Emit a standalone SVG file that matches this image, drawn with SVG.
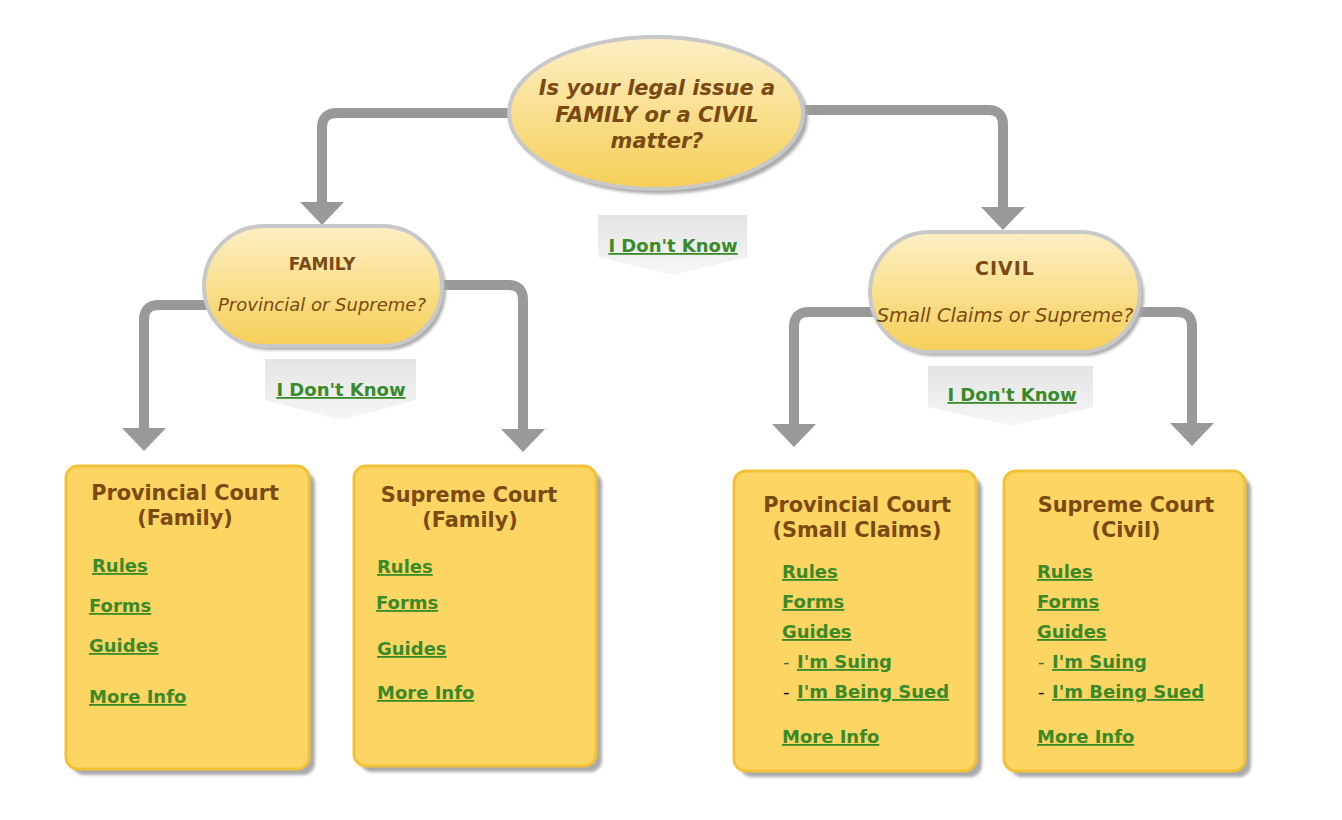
<svg xmlns="http://www.w3.org/2000/svg" width="1342" height="820" viewBox="0 0 1342 820">
<defs>
<linearGradient id="gY" x1="0" y1="0" x2="0" y2="1">
<stop offset="0" stop-color="#fcefc4"/>
<stop offset="1" stop-color="#f6cf58"/>
</linearGradient>
<linearGradient id="gG" x1="0" y1="0" x2="0" y2="1">
<stop offset="0" stop-color="#e4e4e4"/>
<stop offset="1" stop-color="#f6f6f6"/>
</linearGradient>
<filter id="blur" x="-10%" y="-10%" width="120%" height="120%"><feGaussianBlur stdDeviation="1.5"/></filter>
<marker id="arr" markerUnits="userSpaceOnUse" markerWidth="23" markerHeight="44" refX="0" refY="22" orient="auto" viewBox="0 0 23 44">
<path d="M0,0 L23,22 L0,44 Z" fill="#999999"/>
</marker>
<style>
.con{fill:none;stroke:#999999;stroke-width:10;marker-end:url(#arr)}
.shadow{fill:#aaaaaa;filter:url(#blur)}
.pill{fill:url(#gY);stroke:#c8c8c8;stroke-width:4}
.box{fill:#fcd563;stroke:#f1c136;stroke-width:3}
.idk{fill:url(#gG)}
.q{font-family:"DejaVu Sans",Verdana,sans-serif;font-weight:bold;font-style:italic;font-size:21px;fill:#7a4a12;text-anchor:middle}
.ptitle{font-family:"DejaVu Sans",Verdana,sans-serif;font-weight:bold;fill:#7a4a12;text-anchor:middle}
.psub{font-family:"DejaVu Sans",Verdana,sans-serif;font-style:italic;fill:#7a4a12;text-anchor:middle}
.title{font-family:"DejaVu Sans",Verdana,sans-serif;font-weight:bold;font-size:20.8px;fill:#7a4a12;text-anchor:middle}
.lnk{font-family:"DejaVu Sans",Verdana,sans-serif;font-weight:bold;font-size:18px;fill:#3a8a2a;text-decoration:underline}
.dash{font-family:"DejaVu Sans",Verdana,sans-serif;font-size:18px}
</style>
</defs>
<rect width="1342" height="820" fill="#ffffff"/>

<g id="connectors">
<path class="con" d="M510 113 H337 Q322 113 322 128 V202"/>
<path class="con" d="M804 110 H988 Q1003 110 1003 125 V207"/>
<path class="con" d="M208 305 H159 Q144 305 144 320 V428"/>
<path class="con" d="M440 285 H508 Q523 285 523 300 V429"/>
<path class="con" d="M874 312 H809 Q794 312 794 327 V424"/>
<path class="con" d="M1138 312 H1177 Q1192 312 1192 327 V423"/>
</g>

<g id="question">
<ellipse class="shadow" cx="660" cy="117" rx="148" ry="77"/>
<ellipse class="pill" cx="656" cy="113" rx="147" ry="76" stroke-width="5"/>
<text class="q" x="657" y="95">Is your legal issue a</text>
<text class="q" x="657" y="122">FAMILY or a CIVIL</text>
<text class="q" x="657" y="148">matter?</text>
</g>

<g id="idk-top">
<polygon class="idk" points="598,215 747,215 747,257 673,275 598,257"/>
<text class="lnk" x="673" y="252" text-anchor="middle">I Don't Know</text>
</g>

<g id="family">
<rect class="shadow" x="208" y="230" width="238" height="120" rx="60"/>
<rect class="pill" x="204" y="226" width="238" height="120" rx="60"/>
<text class="ptitle" x="322" y="270" font-size="17px">FAMILY</text>
<text class="psub" x="322" y="311" font-size="18px">Provincial or Supreme?</text>
</g>

<g id="idk-family">
<polygon class="idk" points="265,359 416,359 416,400 341,420 265,400"/>
<text class="lnk" x="341" y="396" text-anchor="middle">I Don't Know</text>
</g>

<g id="civil">
<rect class="shadow" x="874" y="236" width="270" height="120" rx="60"/>
<rect class="pill" x="870" y="232" width="270" height="120" rx="60"/>
<text class="ptitle" x="1005" y="275" font-size="19px" letter-spacing="1">CIVIL</text>
<text class="psub" x="1005" y="322" font-size="19.5px">Small Claims or Supreme?</text>
</g>

<g id="idk-civil">
<polygon class="idk" points="928,366 1093,366 1093,407 1012,426 928,407"/>
<text class="lnk" x="1012" y="401" text-anchor="middle">I Don't Know</text>
</g>

<g id="prov-family">
<rect class="shadow" x="72" y="472" width="243" height="303" rx="12"/>
<rect class="box" x="66" y="466" width="243" height="303" rx="12"/>
<text class="title" x="185" y="500">Provincial Court</text>
<text class="title" x="185" y="525">(Family)</text>
<text class="lnk" x="92" y="572">Rules</text>
<text class="lnk" x="89" y="612">Forms</text>
<text class="lnk" x="89" y="652">Guides</text>
<text class="lnk" x="89" y="703">More Info</text>
</g>

<g id="supreme-family">
<rect class="shadow" x="360" y="472" width="242" height="300" rx="12"/>
<rect class="box" x="354" y="466" width="242" height="300" rx="12"/>
<text class="title" x="469" y="502">Supreme Court</text>
<text class="title" x="470" y="527">(Family)</text>
<text class="lnk" x="377" y="573">Rules</text>
<text class="lnk" x="376" y="609">Forms</text>
<text class="lnk" x="377" y="655">Guides</text>
<text class="lnk" x="377" y="699">More Info</text>
</g>

<g id="prov-small-claims">
<rect class="shadow" x="740" y="477" width="242" height="300" rx="12"/>
<rect class="box" x="734" y="471" width="242" height="300" rx="12"/>
<text class="title" x="857" y="512">Provincial Court</text>
<text class="title" x="857" y="537">(Small Claims)</text>
<text class="lnk" x="782" y="578">Rules</text>
<text class="lnk" x="782" y="608">Forms</text>
<text class="lnk" x="782" y="638">Guides</text>
<text class="dash" x="783" y="668" fill="#4a6a30">-</text>
<text class="lnk" x="797" y="668">I'm Suing</text>
<text class="dash" x="783" y="698" fill="#000000">-</text>
<text class="lnk" x="797" y="698">I'm Being Sued</text>
<text class="lnk" x="782" y="743">More Info</text>
</g>

<g id="supreme-civil">
<rect class="shadow" x="1010" y="477" width="241" height="300" rx="12"/>
<rect class="box" x="1004" y="471" width="241" height="300" rx="12"/>
<text class="title" x="1126" y="512">Supreme Court</text>
<text class="title" x="1126" y="537">(Civil)</text>
<text class="lnk" x="1037" y="578">Rules</text>
<text class="lnk" x="1037" y="608">Forms</text>
<text class="lnk" x="1037" y="638">Guides</text>
<text class="dash" x="1038" y="668" fill="#4a6a30">-</text>
<text class="lnk" x="1052" y="668">I'm Suing</text>
<text class="dash" x="1038" y="698" fill="#000000">-</text>
<text class="lnk" x="1052" y="698">I'm Being Sued</text>
<text class="lnk" x="1037" y="743">More Info</text>
</g>
</svg>
